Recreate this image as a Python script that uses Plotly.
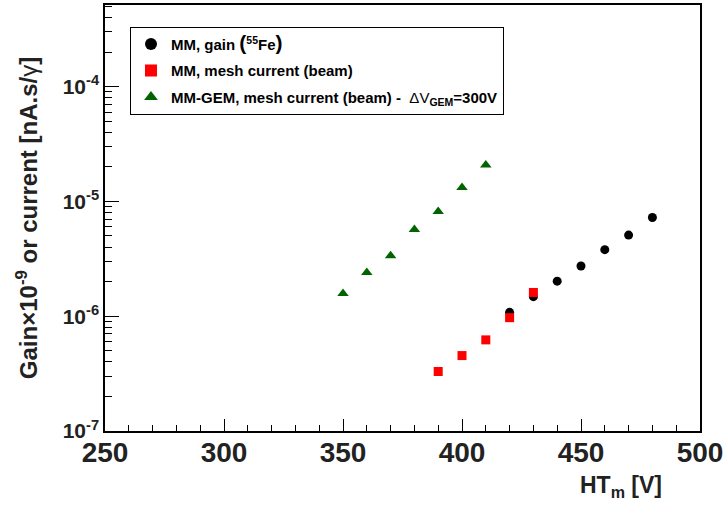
import plotly.graph_objects as go

# Measured data
ht_gain = [420, 430, 440, 450, 460, 470, 480]
gain_fe55 = [1.08e-6, 1.48e-6, 2.02e-6, 2.74e-6, 3.80e-6, 5.09e-6, 7.24e-6]

ht_mm = [390, 400, 410, 420, 430]
mm_current = [3.30e-7, 4.54e-7, 6.22e-7, 9.71e-7, 1.61e-6]

ht_gem = [350, 360, 370, 380, 390, 400, 410]
gem_current = [1.58e-6, 2.40e-6, 3.37e-6, 5.70e-6, 8.17e-6, 1.32e-5, 2.08e-5]

x_ticks = [250, 300, 350, 400, 450, 500]
y_tick_vals = [1e-7, 1e-6, 1e-5, 1e-4]
y_tick_text = ["<b>10<sup>-7</sup></b>", "<b>10<sup>-6</sup></b>",
               "<b>10<sup>-5</sup></b>", "<b>10<sup>-4</sup></b>"]

FONT = "Liberation Sans, Arial, Helvetica, sans-serif"
GREEN = "#006400"

fig = go.Figure()
fig.add_trace(go.Scatter(
    x=ht_gain, y=gain_fe55, mode="markers",
    marker=dict(symbol="circle", size=9, color="black"),
    name="<b>MM, gain <span style='font-size:21px'>(</span><sup>55</sup>Fe<span style='font-size:21px'>)</span></b>",
    legendgroup="a",
))
fig.add_trace(go.Scatter(
    x=ht_mm, y=mm_current, mode="markers",
    marker=dict(symbol="square", size=9, color="#ff0000"),
    name="<b>MM, mesh current (beam)</b>",
    legendgroup="b",
))
fig.add_trace(go.Scatter(
    x=ht_gem, y=gem_current, mode="markers",
    marker=dict(symbol="triangle-up", size=10, color=GREEN),
    name="<b>MM-GEM, mesh current (beam) -</b>  ΔV<sub><b>GEM</b></sub><b>=300V</b>",
    legendgroup="c",
))

fig.update_layout(
    width=727, height=506,
    margin=dict(l=105, r=27, t=3, b=75),
    paper_bgcolor="white", plot_bgcolor="white",
    font=dict(family=FONT, color="black"),
    showlegend=True,
    legend=dict(
        x=0.042, y=0.949, xanchor="left", yanchor="top",
        bgcolor="white", bordercolor="black", borderwidth=1,
        font=dict(size=15, family=FONT, color="black"),
        tracegroupgap=4, traceorder="grouped",
        itemsizing="constant",
    ),
    xaxis=dict(
        range=[250, 500], showgrid=False, zeroline=False,
        showline=True, linecolor="black", linewidth=1.5, mirror=True,
        ticks="inside", ticklen=12, tickwidth=1, tickcolor="black",
        tickvals=x_ticks,
        tickfont=dict(size=28, family=FONT, color="#222222", weight="bold"),
        ticklabelstandoff=-4,
        minor=dict(ticks="inside", ticklen=6, dtick=10, tickcolor="black", tickwidth=1),
    ),
    yaxis=dict(
        type="log", range=[-7, -3.289], showgrid=False, zeroline=False,
        showline=True, linecolor="black", linewidth=1.5, mirror=True,
        ticks="inside", ticklen=14, tickwidth=1, tickcolor="black",
        tickvals=y_tick_vals, ticktext=y_tick_text,
        tickfont=dict(size=21, family=FONT, color="#222222"),
        minor=dict(ticks="inside", ticklen=7, dtick="D1", tickcolor="black", tickwidth=1),
        title=dict(
            text="<b>Gain×10<sup>-9</sup> or current [nA.s/</b>γ<b>]</b>",
            font=dict(size=24, family=FONT, color="#222222"),
            standoff=18,
        ),
    ),
    annotations=[
        dict(
            text="<b>HT<sub>m</sub> [V]</b>",
            xref="paper", yref="paper", x=0.94, y=-0.13,
            xanchor="right", yanchor="middle", showarrow=False,
            font=dict(size=23, family=FONT, color="#222222"),
        )
    ],
)

fig.write_html("out.html")
